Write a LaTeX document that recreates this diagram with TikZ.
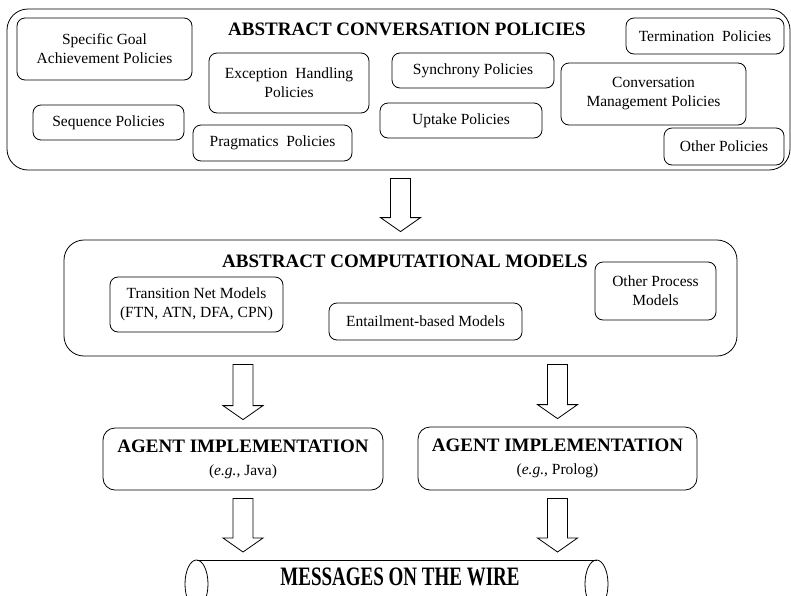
\documentclass[tikz,border=0pt]{standalone}
\usepackage{fontspec}
\setmainfont{Liberation Serif}
\usepackage{tikz}
\usetikzlibrary{calc}
\newcommand{\cpbody}{\fontsize{15.5}{19}\selectfont}
\newcommand{\cphead}{\fontsize{19}{23}\selectfont\bfseries}
% hollow block arrow from just below #1 to just above #2
\newcommand{\hollowarrow}[2]{%
  \path (#1) ++(0,8) coordinate (ha-s);
  \path (#2) ++(0,-8) coordinate (ha-e);
  \draw[blockarrow] let \p1=(ha-s), \p2=(ha-e) in
    (\x1-10pt,\y1) -- (\x1+10pt,\y1) -- (\x1+10pt,\y2+14pt) -- (\x1+20pt,\y2+14pt)
    -- (\x1,\y2) -- (\x1-20pt,\y2+14pt) -- (\x1-10pt,\y2+14pt) -- cycle;
}

\begin{document}
\begin{tikzpicture}[x=1pt,y=-1pt,line width=0.8pt]
		\tikzstyle{policy}=[draw,rounded corners=8pt,align=center,inner sep=0pt,font=\cpbody]
		\tikzstyle{group}=[draw,rounded corners=21pt,inner sep=0pt]
		\tikzstyle{agent}=[draw,rounded corners=12pt,align=center,inner sep=0pt,font=\cphead]
		\tikzstyle{heading}=[inner sep=0pt,font=\cphead]
		\tikzstyle{blockarrow}=[draw,fill=white,line width=0.8pt,line join=miter]
		\useasboundingbox (0,0) rectangle (791,595);

		% abstract conversation policies
		\node[group,minimum width=783,minimum height=161] (cp) at (398.5,89.5) {};
		\node[heading] (cptitle) at (407,29) {ABSTRACT CONVERSATION POLICIES};
		\node[policy,minimum width=175,minimum height=62] (goal) at (104.5,49) {Specific Goal\\Achievement Policies};
		\node[policy,minimum width=160,minimum height=60] (exception) at (289,83) {Exception\ \ Handling\\Policies};
		\node[policy,minimum width=151,minimum height=35] (sequence) at (108.5,122.5) {Sequence Policies};
		\node[policy,minimum width=159,minimum height=36] (pragmatics) at (272.5,143) {Pragmatics\ \ Policies};
		\node[policy,minimum width=162,minimum height=35] (synchrony) at (473,70.5) {Synchrony Policies};
		\node[policy,minimum width=162,minimum height=35] (uptake) at (461,120.5) {Uptake Policies};
		\node[policy,minimum width=158,minimum height=36] (termination) at (705,36) {Termination\ \ Policies};
		\node[policy,minimum width=185,minimum height=62] (management) at (653.5,94) {Conversation\\Management Policies};
		\node[policy,minimum width=120,minimum height=37] (otherpol) at (724,146.5) {Other Policies};

		% abstract computational models
		\node[group,rounded corners=20pt,minimum width=673,minimum height=116] (cm) at (400.5,298) {};
		\node[heading] (cmtitle) at (405,261) {ABSTRACT COMPUTATIONAL MODELS};
		\node[policy,minimum width=173,minimum height=55] (transnet) at (196.5,304.5) {Transition Net Models\\(FTN, ATN, DFA, CPN)};
		\node[policy,minimum width=193,minimum height=37] (entail) at (425.5,321.5) {Entailment-based Models};
		\node[policy,minimum width=121,minimum height=58] (otherproc) at (655.5,291) {Other Process\\Models};

		% agent implementations
		\node[agent,minimum width=280,minimum height=62] (java) at (243,459) {AGENT IMPLEMENTATION\\{\normalfont\cpbody(\textit{e.g.}, Java)}};
		\node[agent,minimum width=279,minimum height=63] (prolog) at (557.5,458.5) {AGENT IMPLEMENTATION\\{\normalfont\cpbody(\textit{e.g.}, Prolog)}};

		% messages on the wire
		\coordinate (wirel) at (196.5,584);
		\coordinate (wirer) at (596.5,584);
		\coordinate (wiretop) at (396.5,560);
		\draw (wirel) ellipse [x radius=11.5,y radius=24];
		\draw (wirer) ellipse [x radius=11.5,y radius=24];
		\draw ($(wirel)+(0,-24)$) -- ($(wirer)+(0,-24)$);
		\draw ($(wirel)+(0,24)$) -- ($(wirer)+(0,24)$);
		\node[heading] (wire) at (400,577) {\scalebox{1}[1.4]{MESSAGES ON THE WIRE}};

		\hollowarrow{cp.south -| cm.north}{cm.north}
		\hollowarrow{cm.south -| java.north}{java.north}
		\hollowarrow{cm.south -| prolog.north}{prolog.north}
		\hollowarrow{java.south}{java.south |- wiretop}
		\hollowarrow{prolog.south}{prolog.south |- wiretop}

	\end{tikzpicture}
\end{document}
